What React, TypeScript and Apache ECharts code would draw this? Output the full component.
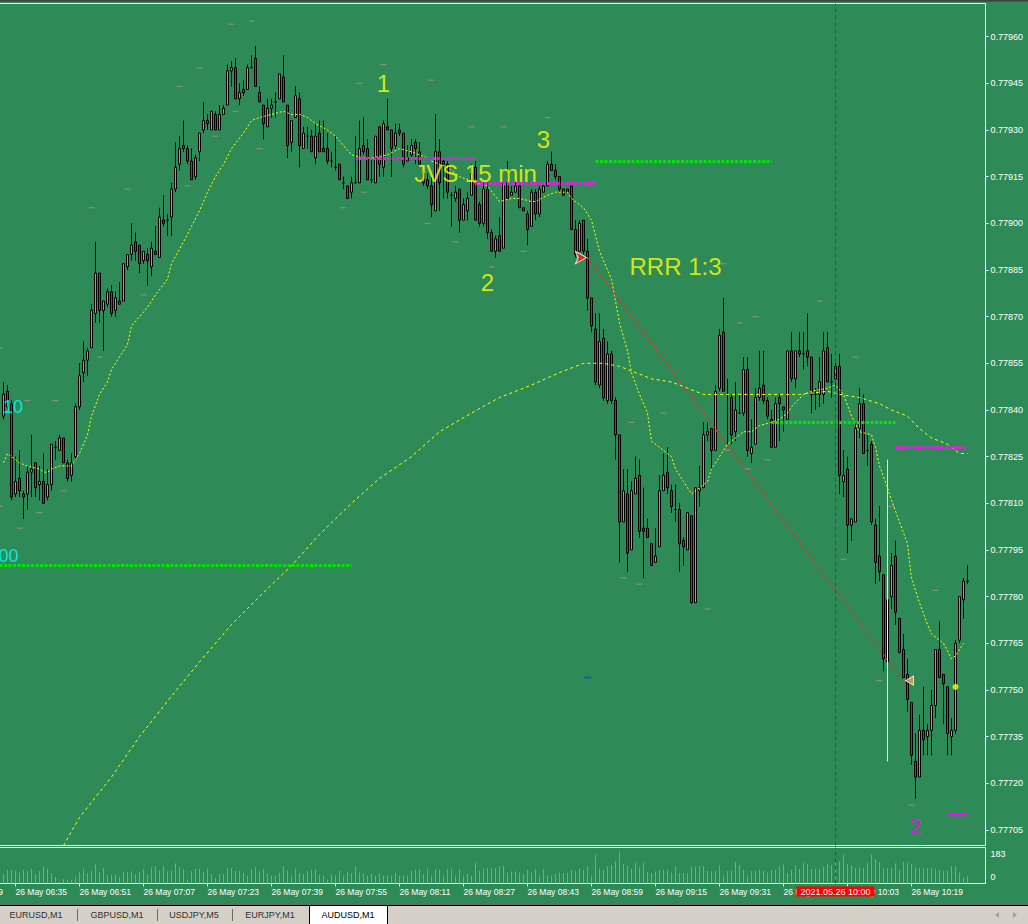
import React, { useEffect, useRef } from "react";
import * as echarts from "echarts";

// ---------- data (prices in 1e-5 units, one 1-minute bar each, first bar 26 May 06:32) ----------
const open5 = [
  77838, 77846, 77842, 77813, 77818, 77813, 77813, 77820, 77823, 77816,
  77817, 77812, 77816, 77828, 77827, 77831, 77823, 77819, 77825, 77841,
  77852, 77856, 77860, 77871, 77884, 77872, 77874, 77878, 77872, 77875,
  77875, 77886, 77890, 77894, 77893, 77888, 77890, 77886, 77891, 77889,
  77901, 77901, 77902, 77911, 77919, 77925, 77924, 77920, 77915, 77923,
  77930, 77933, 77930, 77935, 77930, 77935, 77938, 77949, 77950, 77940,
  77943, 77943, 77950, 77953, 77942, 77938, 77931, 77937, 77939, 77940,
  77947, 77938, 77926, 77934, 77940, 77924, 77928, 77928, 77921, 77929,
  77924, 77924, 77920, 77918, 77919, 77913, 77912, 77910, 77913, 77913,
  77925, 77924, 77914, 77913, 77931, 77918, 77931, 77930, 77925, 77930,
  77929, 77920, 77922, 77926, 77923, 77916, 77914, 77912, 77904, 77923,
  77920, 77919, 77909, 77908, 77911, 77901, 77904, 77909, 77918, 77906,
  77900, 77911, 77897, 77891, 77896, 77892, 77913, 77909, 77910, 77912,
  77905, 77903, 77899, 77910, 77903, 77910, 77912, 77919, 77917, 77915,
  77911, 77911, 77912, 77898, 77891, 77901, 77891, 77876, 77866, 77848,
  77863, 77843, 77858, 77843, 77832, 77804, 77813, 77795, 77813, 77819,
  77802, 77802, 77797, 77791, 77796, 77814, 77820, 77814, 77808, 77808,
  77798, 77795, 77806, 77778, 77814, 77815, 77832, 77834, 77827, 77847,
  77865, 77845, 77844, 77833, 77839, 77839, 77853, 77826, 77829, 77844,
  77848, 77843, 77837, 77828, 77844, 77841, 77837, 77859, 77850, 77859,
  77858, 77859, 77857, 77845, 77845, 77845, 77860, 77849, 77850, 77854,
  77817, 77821, 77803, 77804, 77834, 77842, 77827, 77829, 77803, 77793,
  77787, 77759, 77780, 77793, 77773, 77763, 77755, 77746, 77727, 77722,
  77737, 77735, 77737, 77745, 77763, 77755, 77751, 77735, 77737, 77766,
  77779, 77785,
];
const high5 = [
  77849, 77848, 77843, 77825, 77827, 77814, 77822, 77832, 77823, 77822,
  77826, 77821, 77829, 77830, 77832, 77831, 77824, 77826, 77842, 77855,
  77862, 77860, 77874, 77894, 77884, 77875, 77879, 77880, 77878, 77881,
  77887, 77890, 77900, 77897, 77893, 77891, 77892, 77894, 77899, 77905,
  77909, 77903, 77913, 77926, 77928, 77933, 77925, 77924, 77922, 77929,
  77939, 77935, 77936, 77936, 77938, 77938, 77951, 77952, 77953, 77945,
  77946, 77951, 77954, 77957, 77944, 77938, 77940, 77940, 77942, 77948,
  77954, 77938, 77933, 77944, 77942, 77931, 77931, 77930, 77932, 77933,
  77933, 77929, 77923, 77928, 77919, 77915, 77912, 77915, 77928, 77933,
  77934, 77927, 77921, 77928, 77931, 77933, 77940, 77930, 77932, 77932,
  77929, 77925, 77927, 77927, 77926, 77917, 77916, 77915, 77935, 77927,
  77921, 77920, 77910, 77912, 77911, 77908, 77910, 77919, 77920, 77907,
  77913, 77913, 77898, 77896, 77902, 77913, 77920, 77912, 77914, 77912,
  77905, 77904, 77911, 77911, 77912, 77913, 77920, 77923, 77919, 77915,
  77911, 77911, 77912, 77901, 77901, 77901, 77895, 77876, 77871, 77871,
  77866, 77862, 77859, 77844, 77832, 77821, 77821, 77817, 77825, 77824,
  77815, 77805, 77797, 77802, 77819, 77826, 77828, 77816, 77816, 77810,
  77799, 77807, 77806, 77815, 77822, 77836, 77836, 77834, 77848, 77866,
  77876, 77850, 77845, 77849, 77845, 77857, 77857, 77837, 77847, 77859,
  77859, 77844, 77840, 77844, 77845, 77841, 77859, 77865, 77859, 77865,
  77865, 77871, 77857, 77847, 77857, 77865, 77865, 77858, 77855, 77858,
  77827, 77825, 77805, 77836, 77847, 77845, 77832, 77830, 77805, 77809,
  77787, 77779, 77794, 77798, 77773, 77768, 77760, 77746, 77736, 77742,
  77751, 77739, 77750, 77763, 77772, 77755, 77751, 77741, 77766, 77780,
  77786, 77790,
];
const low5 = [
  77837, 77840, 77811, 77812, 77812, 77805, 77808, 77812, 77812, 77811,
  77810, 77811, 77814, 77824, 77827, 77823, 77817, 77817, 77824, 77840,
  77849, 77851, 77860, 77868, 77868, 77859, 77873, 77870, 77870, 77874,
  77875, 77885, 77888, 77888, 77884, 77887, 77880, 77883, 77890, 77889,
  77899, 77896, 77896, 77910, 77917, 77923, 77919, 77914, 77914, 77920,
  77929, 77930, 77930, 77930, 77930, 77935, 77938, 77944, 77940, 77938,
  77941, 77943, 77950, 77944, 77939, 77927, 77931, 77934, 77934, 77940,
  77939, 77921, 77923, 77934, 77918, 77924, 77924, 77923, 77919, 77923,
  77923, 77919, 77918, 77917, 77914, 77911, 77908, 77908, 77913, 77913,
  77922, 77914, 77913, 77913, 77915, 77915, 77930, 77915, 77924, 77928,
  77918, 77920, 77921, 77919, 77919, 77912, 77911, 77902, 77904, 77904,
  77908, 77908, 77899, 77907, 77897, 77901, 77901, 77909, 77901, 77899,
  77899, 77895, 77891, 77889, 77891, 77892, 77908, 77909, 77910, 77905,
  77904, 77893, 77899, 77901, 77902, 77910, 77912, 77917, 77914, 77910,
  77909, 77910, 77898, 77889, 77891, 77890, 77872, 77865, 77848, 77847,
  77843, 77842, 77842, 77824, 77791, 77804, 77788, 77795, 77813, 77799,
  77786, 77799, 77790, 77791, 77796, 77814, 77813, 77807, 77804, 77788,
  77790, 77795, 77778, 77778, 77809, 77815, 77830, 77821, 77827, 77846,
  77846, 77829, 77829, 77830, 77839, 77838, 77825, 77823, 77829, 77843,
  77842, 77837, 77828, 77828, 77830, 77833, 77837, 77849, 77847, 77857,
  77853, 77854, 77839, 77840, 77841, 77842, 77849, 77844, 77847, 77813,
  77812, 77794, 77798, 77804, 77831, 77826, 77822, 77803, 77784, 77785,
  77756, 77759, 77776, 77771, 77762, 77754, 77743, 77726, 77715, 77722,
  77729, 77729, 77729, 77741, 77754, 77739, 77729, 77729, 77736, 77765,
  77773, 77784,
];
const close5 = [
  77845, 77841, 77812, 77817, 77814, 77812, 77820, 77821, 77815, 77817,
  77810, 77816, 77829, 77828, 77831, 77823, 77818, 77823, 77841, 77851,
  77856, 77859, 77872, 77884, 77872, 77875, 77878, 77871, 77876, 77874,
  77887, 77890, 77893, 77891, 77887, 77891, 77888, 77892, 77890, 77902,
  77900, 77901, 77911, 77918, 77924, 77924, 77920, 77914, 77921, 77929,
  77933, 77932, 77936, 77930, 77935, 77937, 77949, 77950, 77940, 77942,
  77942, 77950, 77950, 77944, 77939, 77932, 77937, 77938, 77939, 77948,
  77939, 77925, 77933, 77941, 77925, 77929, 77928, 77923, 77928, 77923,
  77923, 77920, 77920, 77918, 77914, 77913, 77908, 77913, 77913, 77924,
  77923, 77914, 77914, 77928, 77919, 77932, 77930, 77924, 77929, 77929,
  77919, 77921, 77925, 77924, 77919, 77913, 77912, 77906, 77923, 77913,
  77919, 77910, 77909, 77910, 77901, 77906, 77908, 77916, 77901, 77900,
  77911, 77897, 77891, 77895, 77891, 77913, 77908, 77910, 77912, 77905,
  77904, 77898, 77910, 77903, 77911, 77912, 77919, 77917, 77915, 77911,
  77909, 77910, 77898, 77890, 77900, 77891, 77876, 77867, 77849, 77862,
  77844, 77858, 77843, 77832, 77804, 77814, 77794, 77814, 77818, 77801,
  77801, 77799, 77790, 77793, 77814, 77819, 77815, 77809, 77808, 77797,
  77796, 77807, 77778, 77815, 77815, 77832, 77833, 77827, 77846, 77864,
  77846, 77845, 77832, 77840, 77839, 77853, 77827, 77828, 77844, 77847,
  77843, 77838, 77828, 77842, 77842, 77840, 77859, 77850, 77859, 77858,
  77858, 77857, 77845, 77845, 77849, 77859, 77849, 77849, 77854, 77819,
  77819, 77803, 77805, 77834, 77842, 77826, 77827, 77804, 77791, 77788,
  77760, 77779, 77790, 77775, 77762, 77754, 77747, 77729, 77722, 77737,
  77734, 77737, 77745, 77763, 77754, 77752, 77736, 77737, 77765, 77780,
  77785, 77785,
];
const tickVolume = [
  52, 74, 74, 70, 59, 74, 67, 81, 52, 70,
  93, 81, 56, 37, 11, 26, 19, 22, 37, 63,
  81, 56, 70, 104, 63, 85, 44, 48, 48, 37,
  63, 63, 67, 52, 63, 78, 48, 89, 96, 70,
  93, 67, 70, 111, 89, 78, 22, 70, 81, 81,
  63, 81, 52, 30, 52, 52, 85, 85, 70, 70,
  59, 44, 78, 89, 67, 78, 56, 44, 44, 59,
  96, 70, 44, 81, 56, 52, 67, 74, 78, 48,
  44, 22, 48, 44, 70, 44, 63, 56, 93, 59,
  56, 44, 52, 44, 56, 44, 44, 44, 59, 44,
  44, 44, 70, 74, 78, 52, 81, 44, 78, 74,
  44, 78, 81, 44, 78, 44, 52, 44, 115, 70,
  81, 85, 85, 85, 93, 98, 59, 67, 67, 59,
  52, 74, 59, 78, 44, 78, 44, 44, 52, 59,
  56, 59, 74, 70, 81, 74, 93, 44, 159, 81,
  74, 93, 100, 122, 176, 104, 96, 81, 115, 89,
  115, 63, 56, 67, 74, 74, 74, 59, 93, 56,
  56, 56, 93, 93, 96, 96, 70, 67, 70, 100,
  44, 70, 70, 118, 100, 74, 44, 70, 70, 74,
  70, 59, 74, 74, 93, 104, 56, 74, 100, 81,
  115, 107, 78, 81, 81, 93, 107, 100, 122, 122,
  159, 104, 100, 85, 89, 85, 115, 159, 133, 118,
  85, 85, 85, 111, 74, 118, 115, 107, 89, 85,
  85, 85, 85, 81, 74, 70, 70, 96, 96, 59,
  33, 40,
];
// moving averages: [bar index, price in 1e-5]
const fastMA = [
  [0, 77823], [1, 77826], [3, 77824], [4, 77823], [6, 77822], [9, 77821], [10, 77820], [11, 77820],
  [12, 77821], [14, 77822], [17, 77822], [18, 77824], [19, 77826], [21, 77832], [22, 77838], [24, 77845],
  [26, 77849], [27, 77853], [29, 77857], [31, 77861], [32, 77867], [34, 77870], [36, 77873], [38, 77877],
  [41, 77882], [42, 77887], [45, 77894], [47, 77899], [49, 77904], [51, 77910], [53, 77915], [55, 77919],
  [57, 77924], [60, 77929], [62, 77933], [64, 77934], [67, 77935], [70, 77936], [72, 77935], [74, 77935],
  [76, 77934], [78, 77932], [81, 77930], [83, 77928], [85, 77925], [87, 77922], [90, 77921], [92, 77921],
  [96, 77922], [99, 77924], [102, 77923], [106, 77921], [107, 77920], [111, 77918], [114, 77915], [118, 77913],
  [121, 77912], [124, 77907], [127, 77908], [129, 77908], [132, 77907], [133, 77907], [136, 77909], [138, 77910],
  [141, 77910], [142, 77908], [145, 77905], [147, 77901], [149, 77891], [152, 77882], [154, 77868], [156, 77859],
  [157, 77852], [159, 77845], [161, 77839], [162, 77830], [164, 77828], [167, 77825], [168, 77821], [170, 77817],
  [172, 77813], [174, 77815], [176, 77817], [177, 77821], [179, 77825], [181, 77829], [182, 77830], [185, 77833],
  [187, 77833], [189, 77835], [192, 77836], [194, 77837], [196, 77839], [197, 77841], [200, 77845], [202, 77846],
  [206, 77847], [208, 77848], [210, 77845], [212, 77838], [214, 77833], [217, 77832], [218, 77828], [219, 77822],
  [221, 77815], [222, 77811], [224, 77804], [226, 77797], [227, 77786], [229, 77778], [231, 77771], [232, 77768],
  [235, 77765], [237, 77760], [238, 77761], [240, 77765],
];
const slowMA = [
  [15, 77700], [19, 77709], [27, 77722], [34, 77735], [42, 77748], [49, 77759], [57, 77771], [64, 77780],
  [72, 77790], [79, 77800], [87, 77810], [94, 77818], [102, 77825], [109, 77833], [117, 77839], [124, 77844],
  [132, 77848], [139, 77852], [145, 77855], [150, 77855], [154, 77854], [158, 77852], [162, 77850], [167, 77849],
  [171, 77847], [175, 77845], [179, 77845], [183, 77845], [188, 77845], [194, 77845], [199, 77845], [206, 77846],
  [209, 77845], [214, 77844], [219, 77842], [222, 77840], [226, 77838], [229, 77834], [232, 77831], [236, 77829],
  [239, 77826], [241, 77826],
];
// fractal marks: [bar index, price in 1e-5]
const fractals = [
  [57, 77964], [62, 77965], [49, 77950], [44, 77944], [53, 77928], [46, 77912], [31, 77911], [22, 77905],
  [35, 77877], [24, 77857], [6, 77843], [13, 77843], [15, 77814], [9, 77807], [4, 77802], [58, 77936],
  [64, 77924], [95, 77951], [89, 77945], [107, 77946], [90, 77910], [85, 77905], [106, 77900], [136, 77934],
  [117, 77931], [125, 77931], [113, 77894], [130, 77891], [122, 77886], [180, 77887], [188, 77870], [184, 77868],
  [165, 77839], [157, 77836], [181, 77827], [191, 77824], [186, 77821], [155, 77786], [159, 77784], [176, 77776],
  [204, 77875], [213, 77857], [222, 77809], [210, 77792], [233, 77782], [219, 77753], [227, 77713], [-1, 77860],
  [-1, 77809],
];
// drawn objects: [from bar, to bar, price in 1e-5]
const magentaLevels = [[88, 118, 77921], [118, 148, 77913], [223, 241, 77828]];
const greenLevels = [[-1, 87, 77790], [148, 192, 77920], [192, 223, 77836]];
const magentaSolidLevels = [[236, 241, 77710]];
const trendLine = [[146, 77889], [226, 77751]];
const stopLine = [[221, 77824], [221, 77727]];
const annotationTexts = [
  { text: "1", bar: 95, price: 77945 },
  { text: "2", bar: 121, price: 77881 },
  { text: "3", bar: 135, price: 77927 },
  { text: "JVS 15 min", bar: 118, price: 77916 },
  { text: "RRR 1:3", bar: 168, price: 77886 },
  { text: "2", bar: 228, price: 77706 },
  { text: "10", bar: 2, price: 77841 },
  { text: "00", bar: 1, price: 77793 },
];
const arrowMarks = [
  { kind: "sellArrow", bar: 146, price: 77889 },
  { kind: "closeTriangle", bar: 226, price: 77753 },
  { kind: "dot", bar: 238, price: 77751 },
  { kind: "blueDash", bar: 146, price: 77754 },
];
const priceTicks = [
  0.7796, 0.77945, 0.7793, 0.77915, 0.779, 0.77885, 0.7787, 0.77855, 0.7784,
  0.77825, 0.7781, 0.77795, 0.7778, 0.77765, 0.7775, 0.77735, 0.7772, 0.77705,
];
const volumeTicks = [0, 183];
const crosshairTime = "26 May 10:00";
const crosshairLabel = "2021.05.26 10:00";
const tabNames = ["EURUSD,M1", "GBPUSD,M1", "USDJPY,M5", "EURJPY,M1", "AUDUSD,M1"];

// ---------- layout helpers ----------
const PAD_LEFT = 13; // categories before the first bar (06:19 .. 06:31)
const PAD_RIGHT = 4;
const FIRST_MINUTE = 6 * 60 + 19;
const N_BARS = open5.length;
const TOTAL = PAD_LEFT + N_BARS + PAD_RIGHT;
const BAR_PX = 4;
const GRID_LEFT = 3.5 - BAR_PX / 2 - PAD_LEFT * BAR_PX;
const two = (n: number) => String(n).padStart(2, "0");
const categories = Array.from({ length: TOTAL }, (_, k) => {
  const t = FIRST_MINUTE + k;
  return `26 May ${two(Math.floor(t / 60))}:${two(t % 60)}`;
});
const cx = (i: number) => i + PAD_LEFT;
const px = (p: number) => p / 1e5;
const showTime = (idx: number) => idx % 16 === 0 && idx <= 240;

const UI = "'Liberation Sans', Arial, sans-serif";
const ARIAL = "'Liberation Sans', Arial, sans-serif";

const candleData = categories.map((_, k) => {
  const i = k - PAD_LEFT;
  if (i < 0 || i >= N_BARS) return "-";
  return [px(open5[i]), px(close5[i]), px(low5[i]), px(high5[i])];
});
const volumeData = categories.map((_, k) => {
  const i = k - PAD_LEFT;
  return i < 0 || i >= N_BARS ? "-" : tickVolume[i];
});

const levelStyle: Record<string, any> = {
  magenta: { color: "#e41fe4", width: 3, type: [3, 1.5] },
  green: { color: "#00e600", width: 3, type: [3, 1.5] },
  magentaSolid: { color: "#ff00ff", width: 2, type: "solid" },
};
const levelPairs = (rows: number[][], style: any) =>
  rows.map(([a, b, p]) => [
    { coord: [cx(a), px(p)], lineStyle: style },
    { coord: [cx(b), px(p)] },
  ]);

const textStyles = [
  { color: "#ffff00", size: 24, offset: [0, 0] },
  { color: "#ffff00", size: 24, offset: [0, 0] },
  { color: "#ffff00", size: 24, offset: [0, 0] },
  { color: "#ffff00", size: 24, offset: [0, 0] },
  { color: "#ffff00", size: 24, offset: [0, 0] },
  { color: "#ff00ff", size: 22, offset: [0, 0] },
  { color: "#00ffff", size: 18, offset: [1.5, 0] },
  { color: "#00ffff", size: 18, offset: [1, 0] },
];
const markerStyle: Record<string, any> = {
  sellArrow: { symbol: "arrow", symbolSize: [9, 11], symbolRotate: -90, symbolOffset: [-1, 0], itemStyle: { color: "#ff1010", borderColor: "#ffffff", borderWidth: 1 } },
  closeTriangle: { symbol: "triangle", symbolSize: [9, 8], symbolRotate: 90, symbolOffset: [2, 0], itemStyle: { color: "#e8a23a", borderColor: "#ffffff", borderWidth: 1 } },
  dot: { symbol: "circle", symbolSize: 6, itemStyle: { color: "#ffff00" } },
  blueDash: { symbol: "rect", symbolSize: [7, 1.5], itemStyle: { color: "#2233ff" } },
};

const tabCenters = [36, 117, 194, 270, 348];

const option: any = {
  animation: false,
  backgroundColor: "#2e8b57",
  grid: [
    { left: GRID_LEFT, top: 3.5, width: TOTAL * BAR_PX, height: 842, outerBoundsMode: "none", containLabel: false, show: true, borderColor: "#ffffff", borderWidth: 1, backgroundColor: "transparent" },
    { left: GRID_LEFT, top: 847.5, width: TOTAL * BAR_PX, height: 36, outerBoundsMode: "none", containLabel: false, show: true, borderColor: "#ffffff", borderWidth: 1, backgroundColor: "transparent" },
  ],
  xAxis: [
    {
      type: "category", gridIndex: 0, data: categories, boundaryGap: true,
      axisLine: { show: false }, axisTick: { show: false }, axisLabel: { show: false }, splitLine: { show: false },
    },
    {
      type: "category", gridIndex: 1, data: categories, boundaryGap: true,
      axisLine: { show: false },
      axisTick: { show: true, alignWithLabel: true, interval: showTime, length: 3, lineStyle: { color: "#ffffff" } },
      axisLabel: { interval: showTime, align: "left", margin: 4, color: "#ffffff", fontSize: 8.5, fontFamily: UI },
      splitLine: { show: false },
    },
  ],
  yAxis: [
    {
      type: "value", gridIndex: 0, position: "right", min: 0.777, max: 0.7797065, scale: true,
      axisLine: { show: false },
      axisTick: { show: true, customValues: priceTicks, length: 3, lineStyle: { color: "#ffffff" } },
      axisLabel: { customValues: priceTicks, formatter: (v: number) => v.toFixed(5), color: "#ffffff", fontSize: 9, margin: 5, fontFamily: UI },
      splitLine: { show: false },
    },
    {
      type: "value", gridIndex: 1, position: "right", min: 0, max: 198,
      axisLine: { show: false }, axisTick: { show: false }, splitLine: { show: false },
      axisLabel: {
        customValues: volumeTicks, margin: 5,
        formatter: (v: number) => (v === 0 ? "{b|0}" : `{a|${v}}`),
        rich: {
          a: { color: "#ffffff", fontSize: 9, fontFamily: UI, padding: [8, 0, 0, 0] },
          b: { color: "#ffffff", fontSize: 9, fontFamily: UI, padding: [0, 0, 14, 0] },
        },
      },
    },
  ],
  series: [
    {
      type: "candlestick", name: "AUDUSD", xAxisIndex: 0, yAxisIndex: 0, data: candleData, barWidth: 2, z: 2,
      itemStyle: { color: "#3fde3f", color0: "#d81c1c", borderColor: "#000000", borderColor0: "#000000", borderWidth: 1 },
      markLine: {
        silent: true, symbol: ["none", "none"], animation: false, label: { show: false },
        data: [
          ...levelPairs(magentaLevels, levelStyle.magenta),
          ...levelPairs(greenLevels, levelStyle.green),
          ...levelPairs(magentaSolidLevels, levelStyle.magentaSolid),
          [
            { coord: [cx(trendLine[0][0]), px(trendLine[0][1])], lineStyle: { color: "#ff2020", width: 1.5, type: [2, 3] } },
            { coord: [cx(trendLine[1][0]), px(trendLine[1][1])] },
          ],
          [
            { coord: [cx(stopLine[0][0]), px(stopLine[0][1])], lineStyle: { color: "#ffffa0", width: 1, type: "solid" } },
            { coord: [cx(stopLine[1][0]), px(stopLine[1][1])] },
          ],
          { xAxis: crosshairTime, lineStyle: { color: "#c81414", width: 1, type: [4, 3] } },
          {
            yAxis: px(close5[N_BARS - 1]), lineStyle: { opacity: 0 },
            label: {
              show: true, position: "end", distance: 2, formatter: (p: any) => Number(p.value).toFixed(5),
              color: "#000000", backgroundColor: "#ffffff", padding: [1, 3, 0, 3], fontSize: 9, fontFamily: UI,
            },
          },
        ],
      },
    },
    {
      type: "line", name: "MA slow", xAxisIndex: 0, yAxisIndex: 0, z: 3, showSymbol: false, symbol: "none",
      data: slowMA.map(([i, p]) => [cx(i), px(p)]),
      lineStyle: { color: "#ffff00", width: 1, type: [3, 3] },
    },
    {
      type: "line", name: "MA fast", xAxisIndex: 0, yAxisIndex: 0, z: 3, showSymbol: false, symbol: "none",
      data: fastMA.map(([i, p]) => [cx(i), px(p)]),
      lineStyle: { color: "#ffff00", width: 1, type: [2, 2] },
    },
    {
      type: "scatter", name: "fractals", xAxisIndex: 0, yAxisIndex: 0, z: 2, symbol: "rect", symbolSize: [6, 1.2],
      itemStyle: { color: "#9c8e8e" },
      data: fractals.map(([i, p]) => [cx(i), px(p)]),
    },
    {
      type: "scatter", name: "markers", xAxisIndex: 0, yAxisIndex: 0, z: 6,
      data: arrowMarks.map((m) => ({ value: [cx(m.bar), px(m.price)], ...markerStyle[m.kind] })),
    },
    {
      type: "scatter", name: "texts", xAxisIndex: 0, yAxisIndex: 0, z: 7, symbolSize: 0.1,
      itemStyle: { color: "rgba(0,0,0,0)" },
      data: annotationTexts.map((t, k) => ({
        value: [cx(t.bar), px(t.price)],
        label: {
          show: true, position: "inside", formatter: t.text, color: textStyles[k].color,
          fontSize: textStyles[k].size, fontFamily: ARIAL, offset: textStyles[k].offset,
        },
      })),
    },
    {
      type: "bar", name: "Volumes", xAxisIndex: 1, yAxisIndex: 1, data: volumeData, barWidth: 1,
      itemStyle: { color: "#19ee19" },
      markLine: {
        silent: true, symbol: ["none", "none"], animation: false,
        data: [
          {
            xAxis: crosshairTime, lineStyle: { color: "#c81414", width: 1, type: [4, 3] },
            label: {
              show: true, position: "start", distance: 3, formatter: crosshairLabel,
              color: "#ffffff", backgroundColor: "#ff0000", padding: [1, 4, 0, 4], fontSize: 9, fontFamily: UI,
            },
          },
        ],
      },
    },
  ],
  graphic: [
    { type: "rect", silent: true, shape: { x: 0, y: 0, width: 1028, height: 1.5 }, style: { fill: "#404040" } },
    { type: "rect", silent: true, shape: { x: 0, y: 904, width: 1028, height: 20 }, style: { fill: "#d4d0c8" } },
    { type: "rect", silent: true, shape: { x: 0, y: 904.5, width: 1028, height: 1.5 }, style: { fill: "#000000" } },
    { type: "rect", silent: true, shape: { x: 309, y: 906, width: 78, height: 18 }, style: { fill: "#ffffff" } },
    { type: "line", silent: true, shape: { x1: 309.5, y1: 906, x2: 309.5, y2: 924 }, style: { stroke: "#000000", lineWidth: 1 } },
    { type: "line", silent: true, shape: { x1: 387.5, y1: 906, x2: 387.5, y2: 924 }, style: { stroke: "#000000", lineWidth: 1 } },
    ...[77, 157, 232].map((x) => ({
      type: "line", silent: true, shape: { x1: x + 0.5, y1: 909, x2: x + 0.5, y2: 921 }, style: { stroke: "#6a6a6a", lineWidth: 1 },
    })),
    ...tabNames.map((name, k) => ({
      type: "text", silent: true, x: tabCenters[k], y: 915,
      style: { text: name, fill: k === 4 ? "#000000" : "#303030", font: `9px ${UI}`, align: "center", verticalAlign: "middle" },
    })),
    { type: "polygon", silent: true, shape: { points: [[999, 912], [999, 918], [995, 915]] }, style: { fill: "#a0a0a0" } },
    { type: "polygon", silent: true, shape: { points: [[1013, 912], [1013, 918], [1017, 915]] }, style: { fill: "#a0a0a0" } },
  ],
};

export default function App() {
  const ref = useRef<HTMLDivElement>(null);
  useEffect(() => {
    if (!ref.current) return;
    const chart = echarts.init(ref.current, null, { renderer: "svg" });
    chart.setOption(option);
    return () => chart.dispose();
  }, []);
  return (
    <div
      ref={ref}
      style={{ position: "fixed", left: 0, top: 0, width: 1028, height: 924 }}
    />
  );
}
